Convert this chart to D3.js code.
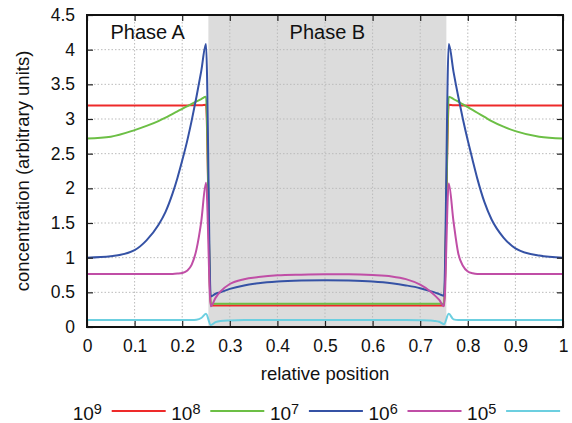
<!DOCTYPE html>
<html>
<head>
<meta charset="utf-8">
<script src="https://cdn.jsdelivr.net/npm/d3@7"></script>
<style>
    body { margin: 0; background: #fff; }
    text { font-family: "Liberation Sans", Arial, Helvetica, sans-serif; fill: #111; }
</style>
</head>
<body>
<div id="chart"></div>
<script>

// sample positions (relative position along the cell)
const xs = [0, 0.05, 0.1, 0.125, 0.15, 0.165, 0.18, 0.19, 0.2, 0.21, 0.22, 0.23, 0.24, 0.25,
    0.26, 0.27, 0.28, 0.3, 0.33, 0.36, 0.4, 0.45, 0.5, 0.55, 0.6, 0.64, 0.67, 0.7, 0.72, 0.73, 0.74, 0.75,
    0.76, 0.77, 0.78, 0.79, 0.8, 0.81, 0.82, 0.835, 0.85, 0.875, 0.9, 0.95, 1];

// concentrations, one array per rate
const conc1e9 = [3.195, 3.195, 3.195, 3.195, 3.195, 3.195, 3.195, 3.195, 3.195, 3.195, 3.2, 3.2, 3.2, 3.205,
    0.31, 0.31, 0.31, 0.31, 0.31, 0.31, 0.31, 0.31, 0.31, 0.31, 0.31, 0.31, 0.31, 0.31, 0.31, 0.31, 0.31, 0.31,
    3.205, 3.2, 3.2, 3.195, 3.195, 3.195, 3.195, 3.195, 3.195, 3.195, 3.195, 3.195, 3.195];
const conc1e8 = [2.72, 2.745, 2.84, 2.9, 2.97, 3.02, 3.075, 3.11, 3.147, 3.183, 3.219, 3.254, 3.288, 3.32,
    0.335, 0.335, 0.335, 0.335, 0.335, 0.335, 0.335, 0.335, 0.335, 0.335, 0.335, 0.335, 0.335, 0.335, 0.335, 0.335, 0.335, 0.335,
    3.32, 3.288, 3.25, 3.21, 3.17, 3.13, 3.09, 3.03, 2.97, 2.89, 2.825, 2.745, 2.72];
const conc1e7 = [1.0, 1.02, 1.11, 1.25, 1.47, 1.66, 1.93, 2.15, 2.4, 2.67, 2.98, 3.32, 3.69, 4.08,
    0.44, 0.48, 0.5, 0.55, 0.6, 0.63, 0.655, 0.67, 0.675, 0.67, 0.655, 0.63, 0.6, 0.56, 0.52, 0.5, 0.475, 0.45,
    4.08, 3.68, 3.32, 2.99, 2.69, 2.41, 2.14, 1.8, 1.55, 1.29, 1.135, 1.03, 1.0];
const conc1e6 = [0.765, 0.765, 0.765, 0.765, 0.765, 0.765, 0.765, 0.77, 0.78, 0.81, 0.9, 1.12, 1.52, 2.08,
    0.3, 0.42, 0.51, 0.62, 0.69, 0.72, 0.745, 0.755, 0.76, 0.76, 0.75, 0.73, 0.69, 0.61, 0.52, 0.46, 0.39, 0.3,
    2.07, 1.52, 1.06, 0.88, 0.8, 0.775, 0.765, 0.765, 0.765, 0.765, 0.765, 0.765, 0.765];
const conc1e5 = [0.1, 0.1, 0.1, 0.1, 0.1, 0.1, 0.1, 0.1, 0.1, 0.1, 0.1, 0.105, 0.13, 0.19,
    0.03, 0.07, 0.087, 0.095, 0.1, 0.1, 0.1, 0.1, 0.1, 0.1, 0.1, 0.1, 0.1, 0.097, 0.093, 0.088, 0.075, 0.04,
    0.19, 0.11, 0.1, 0.1, 0.1, 0.1, 0.1, 0.1, 0.1, 0.1, 0.1, 0.1, 0.1];

const exponents = ["9", "8", "7", "6", "5"];
const seriesValues = [conc1e9, conc1e8, conc1e7, conc1e6, conc1e5];
const colours = ["#ee2a2a", "#6cbf45", "#3552a5", "#c04ea6", "#6ccfe0"];

const phaseNames = ["Phase A", "Phase B"];
const phaseBounds = [[0, 0.255], [0.255, 0.755]];

const xTicks = [0, 0.1, 0.2, 0.3, 0.4, 0.5, 0.6, 0.7, 0.8, 0.9, 1];
const yTicks = [0, 0.5, 1, 1.5, 2, 2.5, 3, 3.5, 4, 4.5];


const margin = {top: 15, right: 9, bottom: 96, left: 87};
const totalW = 572, totalH = 423;
const width = totalW - margin.left - margin.right;
const height = totalH - margin.top - margin.bottom;

const svg = d3.select("#chart").append("svg")
    .attr("width", totalW)
    .attr("height", totalH);

const g = svg.append("g")
    .attr("transform", "translate(" + margin.left + "," + margin.top + ")");

const x = d3.scaleLinear().domain([0, 1]).range([0, width]);
const y = d3.scaleLinear().domain([0, 4.5]).range([height, 0]);

// shaded phase B region
g.append("rect")
    .attr("x", x(phaseBounds[1][0]))
    .attr("y", 0)
    .attr("width", x(phaseBounds[1][1]) - x(phaseBounds[1][0]))
    .attr("height", height)
    .attr("fill", "#dcdcdc");

// dotted grid
g.append("g")
    .selectAll("line")
    .data(xTicks.slice(1, -1))
    .enter().append("line")
    .attr("x1", d => x(d)).attr("x2", d => x(d))
    .attr("y1", 0).attr("y2", height)
    .attr("stroke", "#bbb").attr("stroke-width", 1).attr("stroke-dasharray", "1.5,2");
g.append("g")
    .selectAll("line")
    .data(yTicks.slice(1, -1))
    .enter().append("line")
    .attr("y1", d => y(d)).attr("y2", d => y(d))
    .attr("x1", 0).attr("x2", width)
    .attr("stroke", "#bbb").attr("stroke-width", 1).attr("stroke-dasharray", "1.5,2");

// curves
const line = d3.line()
    .x((d, i) => x(xs[i]))
    .y(d => y(d))
    .curve(d3.curveMonotoneX);

g.append("g")
    .selectAll("path")
    .data(seriesValues)
    .enter().append("path")
    .attr("d", d => line(d))
    .attr("fill", "none")
    .attr("stroke", (d, i) => colours[i])
    .attr("stroke-width", 2)
    .attr("stroke-linejoin", "round");

// phase labels
g.selectAll(".phase")
    .data(phaseNames)
    .enter().append("text")
    .attr("x", (d, i) => x((phaseBounds[i][0] + phaseBounds[i][1]) / 2))
    .attr("y", 24)
    .attr("text-anchor", "middle")
    .style("font-size", "20px")
    .text(d => d);

// axes, ticks inward on all four sides
const fmt = d3.format("~g");
g.append("g")
    .attr("transform", "translate(0," + height + ")")
    .call(d3.axisBottom(x).tickValues(xTicks).tickFormat(fmt).tickSizeInner(-6).tickSizeOuter(0).tickPadding(13));
g.append("g")
    .call(d3.axisLeft(y).tickValues(yTicks).tickFormat(fmt).tickSizeInner(-6).tickSizeOuter(0).tickPadding(12));
g.append("g")
    .call(d3.axisTop(x).tickValues(xTicks).tickFormat("").tickSizeInner(-6).tickSizeOuter(0));
g.append("g")
    .attr("transform", "translate(" + width + ",0)")
    .call(d3.axisRight(y).tickValues(yTicks).tickFormat("").tickSizeInner(-6).tickSizeOuter(0));

g.selectAll(".tick line").attr("stroke", "#222").attr("stroke-width", 1.2);
g.selectAll(".domain").remove();
g.selectAll(".tick text").style("font-size", "17.5px").attr("fill", "#111");

g.append("rect")
    .attr("width", width).attr("height", height)
    .attr("fill", "none").attr("stroke", "#111").attr("stroke-width", 2);

// axis titles
svg.append("text")
    .attr("x", margin.left + width / 2)
    .attr("y", 380)
    .attr("text-anchor", "middle")
    .style("font-size", "18.5px")
    .text("relative position");
svg.append("text")
    .attr("transform", "translate(29," + (margin.top + height / 2) + ") rotate(-90)")
    .attr("text-anchor", "middle")
    .style("font-size", "18.5px")
    .text("concentration (arbitrary units)");

// legend: label first, then the line sample
const legend = svg.append("g")
    .selectAll("g")
    .data(exponents)
    .enter().append("g")
    .attr("transform", (d, i) => "translate(" + (72.7 + i * 98.6) + ",411)");

const lab = legend.append("text")
    .attr("y", 9)
    .style("font-size", "19px");
lab.append("tspan").text("10");
lab.append("tspan").attr("dy", -6).style("font-size", "14.5px").text(d => d);

legend.append("line")
    .attr("x1", 39).attr("x2", 93)
    .attr("stroke", (d, i) => colours[i])
    .attr("stroke-width", 2);

</script>
</body>
</html>
